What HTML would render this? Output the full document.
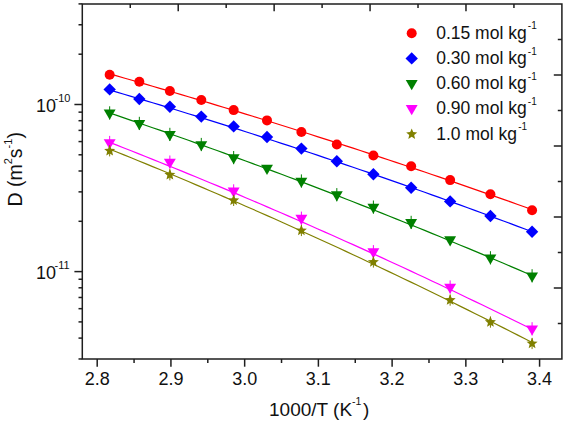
<!DOCTYPE html><html><head><meta charset="utf-8"><style>html,body{margin:0;padding:0;background:#fff}svg{display:block} .t{font-family:"Liberation Sans",sans-serif}</style></head><body><svg width="566" height="423" viewBox="0 0 566 423">
<rect width="566" height="423" fill="#fff"/>
<polyline points="109.66,73.89 116.82,75.92 123.98,77.96 131.14,80.01 138.30,82.07 145.46,84.14 152.62,86.22 159.78,88.30 166.94,90.40 174.10,92.51 181.26,94.62 188.42,96.75 195.58,98.88 202.74,101.02 209.90,103.18 217.06,105.34 224.22,107.51 231.38,109.69 238.54,111.88 245.70,114.08 252.85,116.29 260.01,118.50 267.17,120.73 274.33,122.96 281.49,125.21 288.65,127.46 295.81,129.73 302.97,132.00 310.13,134.28 317.29,136.57 324.45,138.87 331.61,141.18 338.77,143.50 345.93,145.83 353.09,148.17 360.25,150.51 367.41,152.87 374.57,155.24 381.73,157.61 388.89,159.99 396.05,162.39 403.21,164.79 410.37,167.20 417.53,169.62 424.69,172.05 431.85,174.49 439.01,176.94 446.17,179.40 453.33,181.86 460.49,184.34 467.64,186.82 474.80,189.32 481.96,191.82 489.12,194.34 496.28,196.86 503.44,199.39 510.60,201.93 517.76,204.48 524.92,207.04 532.08,209.61" fill="none" stroke="#ff0000" stroke-width="1.2"/>
<polyline points="109.66,90.02 116.82,92.12 123.98,94.23 131.14,96.35 138.30,98.48 145.46,100.63 152.62,102.78 159.78,104.94 166.94,107.12 174.10,109.30 181.26,111.50 188.42,113.70 195.58,115.92 202.74,118.14 209.90,120.38 217.06,122.62 224.22,124.88 231.38,127.15 238.54,129.43 245.70,131.71 252.85,134.01 260.01,136.32 267.17,138.64 274.33,140.97 281.49,143.31 288.65,145.66 295.81,148.02 302.97,150.39 310.13,152.77 317.29,155.16 324.45,157.56 331.61,159.98 338.77,162.40 345.93,164.83 353.09,167.28 360.25,169.73 367.41,172.19 374.57,174.67 381.73,177.15 388.89,179.65 396.05,182.15 403.21,184.67 410.37,187.20 417.53,189.73 424.69,192.28 431.85,194.84 439.01,197.40 446.17,199.98 453.33,202.57 460.49,205.17 467.64,207.78 474.80,210.40 481.96,213.03 489.12,215.67 496.28,218.32 503.44,220.98 510.60,223.65 517.76,226.33 524.92,229.02 532.08,231.73" fill="none" stroke="#0000ff" stroke-width="1.2"/>
<polyline points="109.66,113.02 116.82,115.43 123.98,117.87 131.14,120.31 138.30,122.76 145.46,125.23 152.62,127.70 159.78,130.19 166.94,132.69 174.10,135.20 181.26,137.73 188.42,140.26 195.58,142.81 202.74,145.37 209.90,147.94 217.06,150.52 224.22,153.11 231.38,155.72 238.54,158.33 245.70,160.96 252.85,163.60 260.01,166.25 267.17,168.91 274.33,171.59 281.49,174.27 288.65,176.97 295.81,179.68 302.97,182.40 310.13,185.13 317.29,187.87 324.45,190.63 331.61,193.40 338.77,196.17 345.93,198.96 353.09,201.77 360.25,204.58 367.41,207.40 374.57,210.24 381.73,213.09 388.89,215.95 396.05,218.82 403.21,221.70 410.37,224.59 417.53,227.50 424.69,230.42 431.85,233.35 439.01,236.29 446.17,239.24 453.33,242.20 460.49,245.18 467.64,248.17 474.80,251.16 481.96,254.17 489.12,257.20 496.28,260.23 503.44,263.27 510.60,266.33 517.76,269.40 524.92,272.48 532.08,275.57" fill="none" stroke="#008000" stroke-width="1.2"/>
<polyline points="109.66,142.38 116.82,145.17 123.98,147.98 131.14,150.80 138.30,153.64 145.46,156.48 152.62,159.35 159.78,162.22 166.94,165.10 174.10,168.00 181.26,170.92 188.42,173.84 195.58,176.78 202.74,179.73 209.90,182.69 217.06,185.67 224.22,188.66 231.38,191.66 238.54,194.67 245.70,197.70 252.85,200.74 260.01,203.79 267.17,206.86 274.33,209.94 281.49,213.03 288.65,216.13 295.81,219.25 302.97,222.38 310.13,225.52 317.29,228.68 324.45,231.85 331.61,235.03 338.77,238.22 345.93,241.43 353.09,244.65 360.25,247.88 367.41,251.13 374.57,254.39 381.73,257.66 388.89,260.94 396.05,264.24 403.21,267.55 410.37,270.87 417.53,274.21 424.69,277.56 431.85,280.92 439.01,284.29 446.17,287.68 453.33,291.08 460.49,294.49 467.64,297.92 474.80,301.36 481.96,304.81 489.12,308.27 496.28,311.75 503.44,315.24 510.60,318.74 517.76,322.26 524.92,325.79 532.08,329.33" fill="none" stroke="#ff00ff" stroke-width="1.2"/>
<polyline points="109.66,149.11 116.82,151.99 123.98,154.89 131.14,157.79 138.30,160.71 145.46,163.65 152.62,166.60 159.78,169.56 166.94,172.54 174.10,175.53 181.26,178.53 188.42,181.55 195.58,184.58 202.74,187.62 209.90,190.68 217.06,193.75 224.22,196.84 231.38,199.94 238.54,203.05 245.70,206.18 252.85,209.32 260.01,212.47 267.17,215.64 274.33,218.82 281.49,222.02 288.65,225.22 295.81,228.45 302.97,231.68 310.13,234.93 317.29,238.20 324.45,241.48 331.61,244.77 338.77,248.07 345.93,251.39 353.09,254.72 360.25,258.07 367.41,261.43 374.57,264.80 381.73,268.19 388.89,271.59 396.05,275.01 403.21,278.43 410.37,281.88 417.53,285.33 424.69,288.80 431.85,292.28 439.01,295.78 446.17,299.29 453.33,302.82 460.49,306.35 467.64,309.91 474.80,313.47 481.96,317.05 489.12,320.64 496.28,324.25 503.44,327.87 510.60,331.50 517.76,335.15 524.92,338.81 532.08,342.49" fill="none" stroke="#808000" stroke-width="1.2"/>
<circle cx="109.66" cy="74.80" r="5" fill="#ff0000"/>
<circle cx="139.33" cy="81.70" r="5" fill="#ff0000"/>
<circle cx="169.86" cy="91.00" r="5" fill="#ff0000"/>
<circle cx="201.29" cy="100.00" r="5" fill="#ff0000"/>
<circle cx="233.66" cy="110.10" r="5" fill="#ff0000"/>
<circle cx="267.00" cy="120.40" r="5" fill="#ff0000"/>
<circle cx="301.38" cy="132.00" r="5" fill="#ff0000"/>
<circle cx="336.82" cy="144.50" r="5" fill="#ff0000"/>
<circle cx="373.39" cy="155.50" r="5" fill="#ff0000"/>
<circle cx="411.15" cy="166.30" r="5" fill="#ff0000"/>
<circle cx="450.14" cy="180.10" r="5" fill="#ff0000"/>
<circle cx="490.43" cy="194.30" r="5" fill="#ff0000"/>
<circle cx="532.08" cy="210.30" r="5" fill="#ff0000"/>
<path d="M109.66,83.20L115.86,89.40L109.66,95.60L103.46,89.40Z" fill="#0000ff"/>
<path d="M139.33,92.80L145.53,99.00L139.33,105.20L133.13,99.00Z" fill="#0000ff"/>
<path d="M169.86,100.50L176.06,106.70L169.86,112.90L163.66,106.70Z" fill="#0000ff"/>
<path d="M201.29,110.40L207.49,116.60L201.29,122.80L195.09,116.60Z" fill="#0000ff"/>
<path d="M233.66,120.20L239.86,126.40L233.66,132.60L227.46,126.40Z" fill="#0000ff"/>
<path d="M267.00,130.80L273.20,137.00L267.00,143.20L260.80,137.00Z" fill="#0000ff"/>
<path d="M301.38,142.40L307.58,148.60L301.38,154.80L295.18,148.60Z" fill="#0000ff"/>
<path d="M336.82,155.10L343.02,161.30L336.82,167.50L330.62,161.30Z" fill="#0000ff"/>
<path d="M373.39,168.10L379.59,174.30L373.39,180.50L367.19,174.30Z" fill="#0000ff"/>
<path d="M411.15,181.50L417.35,187.70L411.15,193.90L404.95,187.70Z" fill="#0000ff"/>
<path d="M450.14,195.20L456.34,201.40L450.14,207.60L443.94,201.40Z" fill="#0000ff"/>
<path d="M490.43,209.80L496.63,216.00L490.43,222.20L484.23,216.00Z" fill="#0000ff"/>
<path d="M532.08,225.60L538.28,231.80L532.08,238.00L525.88,231.80Z" fill="#0000ff"/>
<line x1="109.66" y1="106.30" x2="109.66" y2="119.50" stroke="#008000" stroke-width="1"/>
<path d="M103.71,109.53L115.61,109.53L109.66,119.63Z" fill="#008000"/>
<line x1="139.33" y1="116.80" x2="139.33" y2="130.00" stroke="#008000" stroke-width="1"/>
<path d="M133.38,120.03L145.28,120.03L139.33,130.13Z" fill="#008000"/>
<line x1="169.86" y1="127.80" x2="169.86" y2="141.00" stroke="#008000" stroke-width="1"/>
<path d="M163.91,131.03L175.81,131.03L169.86,141.13Z" fill="#008000"/>
<line x1="201.29" y1="137.90" x2="201.29" y2="151.10" stroke="#008000" stroke-width="1"/>
<path d="M195.34,141.13L207.24,141.13L201.29,151.23Z" fill="#008000"/>
<line x1="233.66" y1="151.00" x2="233.66" y2="164.20" stroke="#008000" stroke-width="1"/>
<path d="M227.71,154.23L239.61,154.23L233.66,164.33Z" fill="#008000"/>
<path d="M261.05,164.83L272.95,164.83L267.00,174.93Z" fill="#008000"/>
<line x1="301.38" y1="174.40" x2="301.38" y2="187.60" stroke="#008000" stroke-width="1"/>
<path d="M295.43,177.63L307.33,177.63L301.38,187.73Z" fill="#008000"/>
<line x1="336.82" y1="188.10" x2="336.82" y2="201.30" stroke="#008000" stroke-width="1"/>
<path d="M330.87,191.33L342.77,191.33L336.82,201.43Z" fill="#008000"/>
<line x1="373.39" y1="200.50" x2="373.39" y2="213.70" stroke="#008000" stroke-width="1"/>
<path d="M367.44,203.73L379.34,203.73L373.39,213.83Z" fill="#008000"/>
<line x1="411.15" y1="215.80" x2="411.15" y2="229.00" stroke="#008000" stroke-width="1"/>
<path d="M405.20,219.03L417.10,219.03L411.15,229.13Z" fill="#008000"/>
<path d="M444.19,236.33L456.09,236.33L450.14,246.43Z" fill="#008000"/>
<line x1="490.43" y1="251.20" x2="490.43" y2="264.40" stroke="#008000" stroke-width="1"/>
<path d="M484.48,254.43L496.38,254.43L490.43,264.53Z" fill="#008000"/>
<line x1="532.08" y1="269.20" x2="532.08" y2="282.40" stroke="#008000" stroke-width="1"/>
<path d="M526.13,272.43L538.03,272.43L532.08,282.53Z" fill="#008000"/>
<line x1="109.66" y1="135.90" x2="109.66" y2="149.10" stroke="#ff00ff" stroke-width="1"/>
<path d="M103.71,139.13L115.61,139.13L109.66,149.23Z" fill="#ff00ff"/>
<line x1="169.86" y1="155.50" x2="169.86" y2="168.70" stroke="#ff00ff" stroke-width="1"/>
<path d="M163.91,158.73L175.81,158.73L169.86,168.83Z" fill="#ff00ff"/>
<line x1="233.66" y1="184.30" x2="233.66" y2="197.50" stroke="#ff00ff" stroke-width="1"/>
<path d="M227.71,187.53L239.61,187.53L233.66,197.63Z" fill="#ff00ff"/>
<line x1="301.38" y1="211.60" x2="301.38" y2="224.80" stroke="#ff00ff" stroke-width="1"/>
<path d="M295.43,214.83L307.33,214.83L301.38,224.93Z" fill="#ff00ff"/>
<line x1="373.39" y1="245.10" x2="373.39" y2="258.30" stroke="#ff00ff" stroke-width="1"/>
<path d="M367.44,248.33L379.34,248.33L373.39,258.43Z" fill="#ff00ff"/>
<line x1="450.14" y1="280.40" x2="450.14" y2="293.60" stroke="#ff00ff" stroke-width="1"/>
<path d="M444.19,283.63L456.09,283.63L450.14,293.73Z" fill="#ff00ff"/>
<line x1="532.08" y1="322.20" x2="532.08" y2="335.40" stroke="#ff00ff" stroke-width="1"/>
<path d="M526.13,325.43L538.03,325.43L532.08,335.53Z" fill="#ff00ff"/>
<line x1="109.66" y1="145.20" x2="109.66" y2="156.40" stroke="#808000" stroke-width="1"/>
<polygon points="109.66,145.00 111.19,148.70 115.18,149.01 112.13,151.60 113.07,155.49 109.66,153.40 106.25,155.49 107.19,151.60 104.15,149.01 108.13,148.70" fill="#808000"/>
<line x1="169.86" y1="169.20" x2="169.86" y2="180.40" stroke="#808000" stroke-width="1"/>
<polygon points="169.86,169.00 171.39,172.70 175.38,173.01 172.33,175.60 173.27,179.49 169.86,177.40 166.45,179.49 167.39,175.60 164.35,173.01 168.33,172.70" fill="#808000"/>
<line x1="233.66" y1="194.80" x2="233.66" y2="206.00" stroke="#808000" stroke-width="1"/>
<polygon points="233.66,194.60 235.18,198.30 239.17,198.61 236.13,201.20 237.06,205.09 233.66,203.00 230.25,205.09 231.18,201.20 228.14,198.61 232.13,198.30" fill="#808000"/>
<line x1="301.38" y1="224.90" x2="301.38" y2="236.10" stroke="#808000" stroke-width="1"/>
<polygon points="301.38,224.70 302.90,228.40 306.89,228.71 303.85,231.30 304.78,235.19 301.38,233.10 297.97,235.19 298.90,231.30 295.86,228.71 299.85,228.40" fill="#808000"/>
<line x1="373.39" y1="256.40" x2="373.39" y2="267.60" stroke="#808000" stroke-width="1"/>
<polygon points="373.39,256.20 374.92,259.90 378.91,260.21 375.87,262.80 376.80,266.69 373.39,264.60 369.99,266.69 370.92,262.80 367.88,260.21 371.87,259.90" fill="#808000"/>
<line x1="450.14" y1="294.50" x2="450.14" y2="305.70" stroke="#808000" stroke-width="1"/>
<polygon points="450.14,294.30 451.67,298.00 455.65,298.31 452.61,300.90 453.55,304.79 450.14,302.70 446.73,304.79 447.66,300.90 444.62,298.31 448.61,298.00" fill="#808000"/>
<line x1="490.43" y1="316.50" x2="490.43" y2="327.70" stroke="#808000" stroke-width="1"/>
<polygon points="490.43,316.30 491.95,320.00 495.94,320.31 492.90,322.90 493.84,326.79 490.43,324.70 487.02,326.79 487.95,322.90 484.91,320.31 488.90,320.00" fill="#808000"/>
<line x1="532.08" y1="337.90" x2="532.08" y2="349.10" stroke="#808000" stroke-width="1"/>
<polygon points="532.08,337.70 533.61,341.40 537.60,341.71 534.55,344.30 535.49,348.19 532.08,346.10 528.67,348.19 529.61,344.30 526.57,341.71 530.55,341.40" fill="#808000"/>
<g stroke="#1e1e1e" stroke-width="1.5" fill="none" stroke-linecap="butt">
<rect x="82.3" y="4.0" width="479.59999999999997" height="355.0" stroke-linecap="butt"/>
<line x1="97.20" y1="359.0" x2="97.20" y2="366.7"/>
<line x1="170.93" y1="359.0" x2="170.93" y2="366.7"/>
<line x1="244.66" y1="359.0" x2="244.66" y2="366.7"/>
<line x1="318.39" y1="359.0" x2="318.39" y2="366.7"/>
<line x1="392.12" y1="359.0" x2="392.12" y2="366.7"/>
<line x1="465.85" y1="359.0" x2="465.85" y2="366.7"/>
<line x1="539.58" y1="359.0" x2="539.58" y2="366.7"/>
<line x1="134.07" y1="359.0" x2="134.07" y2="363.0"/>
<line x1="207.80" y1="359.0" x2="207.80" y2="363.0"/>
<line x1="281.53" y1="359.0" x2="281.53" y2="363.0"/>
<line x1="355.26" y1="359.0" x2="355.26" y2="363.0"/>
<line x1="428.99" y1="359.0" x2="428.99" y2="363.0"/>
<line x1="502.72" y1="359.0" x2="502.72" y2="363.0"/>
<line x1="82.3" y1="104.50" x2="74.39999999999999" y2="104.50"/>
<line x1="82.3" y1="271.60" x2="74.39999999999999" y2="271.60"/>
<line x1="82.3" y1="54.20" x2="78.5" y2="54.20"/>
<line x1="82.3" y1="24.77" x2="78.5" y2="24.77"/>
<line x1="82.3" y1="3.90" x2="78.5" y2="3.90"/>
<line x1="82.3" y1="221.30" x2="78.5" y2="221.30"/>
<line x1="82.3" y1="191.87" x2="78.5" y2="191.87"/>
<line x1="82.3" y1="171.00" x2="78.5" y2="171.00"/>
<line x1="82.3" y1="154.80" x2="78.5" y2="154.80"/>
<line x1="82.3" y1="141.57" x2="78.5" y2="141.57"/>
<line x1="82.3" y1="130.38" x2="78.5" y2="130.38"/>
<line x1="82.3" y1="120.69" x2="78.5" y2="120.69"/>
<line x1="82.3" y1="112.15" x2="78.5" y2="112.15"/>
<line x1="82.3" y1="358.97" x2="78.5" y2="358.97"/>
<line x1="82.3" y1="338.10" x2="78.5" y2="338.10"/>
<line x1="82.3" y1="321.90" x2="78.5" y2="321.90"/>
<line x1="82.3" y1="308.67" x2="78.5" y2="308.67"/>
<line x1="82.3" y1="297.48" x2="78.5" y2="297.48"/>
<line x1="82.3" y1="287.79" x2="78.5" y2="287.79"/>
<line x1="82.3" y1="279.25" x2="78.5" y2="279.25"/>
<line x1="130.26" y1="4.0" x2="130.26" y2="8.0"/>
<line x1="178.22" y1="4.0" x2="178.22" y2="11.2"/>
<line x1="226.18" y1="4.0" x2="226.18" y2="8.0"/>
<line x1="274.14" y1="4.0" x2="274.14" y2="11.2"/>
<line x1="322.10" y1="4.0" x2="322.10" y2="8.0"/>
<line x1="370.06" y1="4.0" x2="370.06" y2="11.2"/>
<line x1="418.02" y1="4.0" x2="418.02" y2="8.0"/>
<line x1="465.98" y1="4.0" x2="465.98" y2="11.2"/>
<line x1="513.94" y1="4.0" x2="513.94" y2="8.0"/>
<line x1="561.9" y1="323.50" x2="557.8" y2="323.50"/>
<line x1="561.9" y1="288.00" x2="553.8" y2="288.00"/>
<line x1="561.9" y1="252.50" x2="557.8" y2="252.50"/>
<line x1="561.9" y1="217.00" x2="553.8" y2="217.00"/>
<line x1="561.9" y1="181.50" x2="557.8" y2="181.50"/>
<line x1="561.9" y1="146.00" x2="553.8" y2="146.00"/>
<line x1="561.9" y1="110.50" x2="557.8" y2="110.50"/>
<line x1="561.9" y1="75.00" x2="553.8" y2="75.00"/>
<line x1="561.9" y1="39.50" x2="557.8" y2="39.50"/>
</g>
<text x="97.20" y="385" class="t" font-size="18" text-anchor="middle" fill="#111">2.8</text>
<text x="170.93" y="385" class="t" font-size="18" text-anchor="middle" fill="#111">2.9</text>
<text x="244.66" y="385" class="t" font-size="18" text-anchor="middle" fill="#111">3.0</text>
<text x="318.39" y="385" class="t" font-size="18" text-anchor="middle" fill="#111">3.1</text>
<text x="392.12" y="385" class="t" font-size="18" text-anchor="middle" fill="#111">3.2</text>
<text x="465.85" y="385" class="t" font-size="18" text-anchor="middle" fill="#111">3.3</text>
<text x="539.58" y="385" class="t" font-size="18" text-anchor="middle" fill="#111">3.4</text>
<text x="36" y="111.70" class="t" font-size="18" fill="#111">10<tspan font-size="11" dx="-1.5" dy="-10">-10</tspan></text>
<text x="36" y="278.80" class="t" font-size="18" fill="#111">10<tspan font-size="11" dx="-1.5" dy="-10">-11</tspan></text>
<text x="269" y="415.5" class="t" font-size="19" fill="#111">1000/T (K<tspan font-size="10.5" dy="-10.9">-1</tspan><tspan dx="1.5" dy="10.9">)</tspan></text>
<text transform="translate(22.2,206.5) rotate(-90)" class="t" font-size="19.5" fill="#111">D (m<tspan font-size="11" dy="-10.5">2</tspan><tspan dy="10.5">s</tspan><tspan font-size="11" dy="-10.5">-1</tspan><tspan dy="10.5">)</tspan></text>
<circle cx="411.70" cy="33.30" r="5" fill="#ff0000"/>
<text x="436.2" y="39.30" class="t" font-size="17.5" fill="#111">0.15 mol kg<tspan font-size="10" dx="1.2" dy="-9.9">-1</tspan></text>
<path d="M411.70,52.20L417.90,58.40L411.70,64.60L405.50,58.40Z" fill="#0000ff"/>
<text x="436.2" y="64.40" class="t" font-size="17.5" fill="#111">0.30 mol kg<tspan font-size="10" dx="1.2" dy="-9.9">-1</tspan></text>
<path d="M405.75,80.03L417.65,80.03L411.70,90.13Z" fill="#008000"/>
<text x="436.2" y="89.40" class="t" font-size="17.5" fill="#111">0.60 mol kg<tspan font-size="10" dx="1.2" dy="-9.9">-1</tspan></text>
<path d="M405.75,105.03L417.65,105.03L411.70,115.13Z" fill="#ff00ff"/>
<text x="436.2" y="114.40" class="t" font-size="17.5" fill="#111">0.90 mol kg<tspan font-size="10" dx="1.2" dy="-9.9">-1</tspan></text>
<polygon points="411.70,128.40 413.23,132.10 417.22,132.41 414.17,135.00 415.11,138.89 411.70,136.80 408.29,138.89 409.23,135.00 406.18,132.41 410.17,132.10" fill="#808000"/>
<text x="436.2" y="139.50" class="t" font-size="17.5" fill="#111">1.0 mol kg<tspan font-size="10" dx="1.2" dy="-9.9">-1</tspan></text>
</svg></body></html>
